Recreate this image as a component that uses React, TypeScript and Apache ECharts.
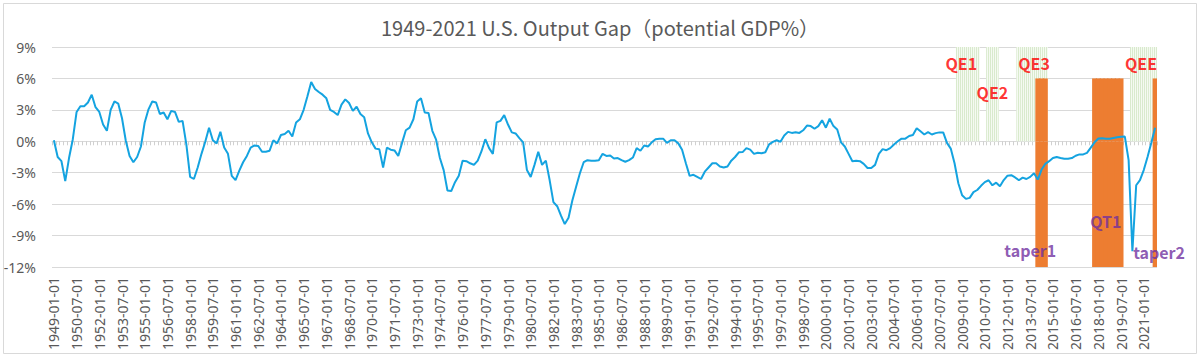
import { useEffect, useRef } from 'react';
import * as echarts from 'echarts';

// ---------- categories (quarterly, 1949Q1 .. 2021Q4) ----------
const START_YEAR = 1949;
const END_YEAR = 2021;
const QUARTER_MONTHS = ['01', '04', '07', '10'];
const categories: string[] = [];
for (let y = START_YEAR; y <= END_YEAR; y++) {
  for (const m of QUARTER_MONTHS) categories.push(`${y}-${m}-01`);
}

// ---------- output gap, % of potential GDP ----------
const gap1949_1958 = [
  0.1, -1.5, -1.9, -3.8,
  -1.6, 0.2, 2.8, 3.35,
  3.35, 3.7, 4.45, 3.25,
  2.8, 1.6, 1.0, 3.0,
  3.8, 3.6, 2.2, 0.05,
  -1.4, -2.0, -1.5, -0.5,
  1.8, 3.05, 3.8, 3.7,
  2.6, 2.75, 2.1, 2.9,
  2.8, 1.85, 1.95, -0.3,
  -3.4, -3.6, -2.5, -1.2,
];
const gap1959_1968 = [
  -0.05, 1.3, 0.1, -0.2,
  0.9, -0.6, -1.2, -3.3,
  -3.7, -2.8, -2.0, -1.4,
  -0.6, -0.4, -0.45, -1.0,
  -1.0, -0.9, 0.1, -0.2,
  0.6, 0.7, 1.0, 0.45,
  1.8, 2.1, 3.0, 4.3,
  5.65, 5.0, 4.7, 4.45,
  4.1, 3.0, 2.8, 2.5,
  3.5, 4.0, 3.65, 2.9,
];
const gap1969_1978 = [
  3.3, 2.6, 2.3, 0.75,
  -0.1, -0.7, -0.77, -2.5,
  -0.6, -0.8, -0.87, -1.4,
  -0.15, 1.05, 1.3, 2.1,
  3.8, 4.1, 2.75, 2.7,
  1.0, 0.15, -1.6, -2.75,
  -4.7, -4.75, -3.9, -3.3,
  -1.85, -1.9, -2.1, -2.25,
  -1.85, -0.95, 0.2, -0.65,
  -1.2, 1.8, 1.95, 2.5,
];
const gap1979_1988 = [
  1.6, 0.85, 0.75, 0.3,
  -0.1, -2.75, -3.4, -2.25,
  -1.0, -2.25, -1.85, -3.7,
  -5.8, -6.2, -7.1, -7.9,
  -7.3, -5.65, -4.35, -3.05,
  -2.0, -1.8, -1.85, -1.85,
  -1.8, -1.2, -1.4, -1.35,
  -1.65, -1.6, -1.8, -1.95,
  -1.8, -1.55, -0.65, -0.9,
  -0.4, -0.5, -0.1, 0.2,
];
const gap1989_1998 = [
  0.25, 0.25, -0.15, 0.1,
  0.1, -0.2, -0.8, -2.1,
  -3.3, -3.2, -3.4, -3.6,
  -2.9, -2.5, -2.1, -2.1,
  -2.4, -2.5, -2.4, -1.85,
  -1.5, -1.05, -1.03, -0.65,
  -0.8, -1.2, -1.1, -1.15,
  -1.05, -0.3, -0.05, 0.1,
  -0.05, 0.55, 0.9, 0.8,
  0.87, 0.8, 1.05, 1.5,
];
const gap1999_2008 = [
  1.45, 1.2, 1.45, 2.0,
  1.3, 2.15, 1.45, 1.13,
  -0.1, -0.5, -1.2, -1.9,
  -1.85, -1.9, -2.15, -2.55,
  -2.55, -2.25, -1.2, -0.75,
  -0.85, -0.65, -0.3, 0.0,
  0.25, 0.25, 0.5, 0.6,
  1.25, 0.95, 0.65, 0.88,
  0.65, 0.78, 0.85, 0.85,
  -0.15, -0.7, -2.1, -4.0,
];
const gap2009_2018 = [
  -5.15, -5.5, -5.4, -4.85,
  -4.65, -4.25, -3.9, -3.72,
  -4.2, -3.95, -4.3, -3.7,
  -3.28, -3.24, -3.45, -3.72,
  -3.47, -3.6, -3.4, -3.05,
  -3.65, -2.7, -2.15, -1.9,
  -1.6, -1.5, -1.6, -1.67,
  -1.67, -1.6, -1.38, -1.25,
  -1.25, -1.1, -0.6, -0.1,
  0.26, 0.3, 0.24, 0.25,
];
const gap2019_2021 = [
  0.32, 0.39, 0.44, 0.45,
  -1.8, -10.5, -4.2, -3.7,
  -2.75, -1.5, -0.15, 1.3,
];
const outputGap = [
  ...gap1949_1958, ...gap1959_1968, ...gap1969_1978, ...gap1979_1988,
  ...gap1989_1998, ...gap1999_2008, ...gap2009_2018, ...gap2019_2021,
];

// ---------- y axis ----------
const Y_MIN = -12;
const Y_MAX = 9;
const Y_STEP = 3;

// ---------- policy periods ----------
const qePeriods = [
  { name: 'QE1', start: '2008-10-01', end: '2010-01-01' },
  { name: 'QE2', start: '2010-10-01', end: '2011-04-01' },
  { name: 'QE3', start: '2012-10-01', end: '2014-07-01' },
  { name: 'QEE', start: '2020-04-01', end: '2021-10-01' },
];
const tighteningPeriods = [
  { name: 'taper1', start: '2014-01-01', end: '2014-07-01' },
  { name: 'QT1', start: '2017-10-01', end: '2019-07-01' },
  { name: 'taper2', start: '2021-10-01', end: '2021-10-01' },
];
const QE_TOP = 9;
const TIGHT_TOP = 6;
const TIGHT_BOTTOM = -12;

// annotation anchors (category, value)
const qeLabels = [
  { name: 'QE1', date: '2008-10-01', value: 7.5 },
  { name: 'QE2', date: '2011-01-01', value: 4.7 },
  { name: 'QE3', date: '2013-10-01', value: 7.5 },
  { name: 'QEE', date: '2020-10-01', value: 7.5 },
];
const tightLabels = [
  { name: 'taper1', date: '2013-07-01', value: -10.4 },
  { name: 'QT1', date: '2018-07-01', value: -7.65 },
  { name: 'taper2', date: '2021-10-01', value: -10.6 },
];

const FONT = '"Noto Sans", "Noto Sans CJK SC", sans-serif';
const FONT_CJK = '"Noto Sans CJK SC", "Noto Sans", sans-serif';

function periodValues(periods: { start: string; end: string }[], v: number) {
  return categories.map((c) => (periods.some((p) => c >= p.start && c <= p.end) ? v : null));
}

export default function App() {
  const ref = useRef<HTMLDivElement>(null);

  useEffect(() => {
    document.body.style.margin = '0';
    if (!ref.current) return;
    const chart = echarts.init(ref.current, undefined, { renderer: 'svg' });

    const labelOffsets: Record<string, number[]> = { QE1: [3, 0], taper2: [4, 0], QEE: [1, 0] };
    const ORANGE = '#ed7d31';
    const BAR_W = '130%';

    const option: any = {
      animation: false,
      backgroundColor: '#ffffff',
      title: {
        text: '1949-2021 U.S. Output Gap（potential GDP%）',
        left: 381,
        top: 17,
        padding: 0,
        textStyle: { fontFamily: FONT_CJK, fontSize: 20, fontWeight: 'normal', color: '#595959' },
      },
      graphic: [
        {
          type: 'rect',
          silent: true,
          z: -10,
          shape: { x: 3.5, y: 3.5, width: 1193, height: 350 },
          style: { fill: 'none', stroke: '#d9d9d9', lineWidth: 1 },
        },
      ],
      grid: { left: 52, right: 43, top: 47, bottom: 90, containLabel: false },
      xAxis: [
        {
          type: 'category',
          data: categories,
          boundaryGap: true,
          axisLine: { show: false, onZero: false },
          axisTick: { show: false },
          splitLine: { show: false },
          axisLabel: {
            interval: 5,
            rotate: 90,
            margin: 10,
            fontSize: 14,
            fontFamily: FONT,
            color: '#595959',
          },
        },
        {
          type: 'category',
          data: categories,
          position: 'bottom',
          boundaryGap: true,
          axisLine: { show: true, onZero: true, lineStyle: { color: '#d9d9d9', width: 1 } },
          axisTick: { show: true, interval: 0, length: 4, lineStyle: { color: '#d0d0d0', width: 1 } },
          axisLabel: { show: false },
          splitLine: { show: false },
        },
      ],
      yAxis: {
        type: 'value',
        min: Y_MIN,
        max: Y_MAX,
        interval: Y_STEP,
        axisLine: { show: false },
        axisTick: { show: false },
        splitLine: { lineStyle: { color: '#d9d9d9', width: 1 } },
        axisLabel: {
          formatter: '{value}%',
          fontSize: 14,
          fontFamily: FONT,
          color: '#595959',
          margin: 16,
        },
      },
      series: [
        {
          name: 'QE',
          type: 'bar',
          xAxisIndex: 0,
          data: periodValues(qePeriods, QE_TOP),
          barWidth: BAR_W,
          barGap: '-100%',
          z: 1,
          itemStyle: {
            color: '#f5faf2',
            decal: {
              symbol: 'rect',
              symbolSize: 1,
              color: '#d9eacd',
              dashArrayX: [1, 1],
              dashArrayY: [4, 0],
              rotation: 0,
            },
          },
        },
        {
          name: 'tightUp',
          type: 'bar',
          xAxisIndex: 0,
          data: periodValues(tighteningPeriods, TIGHT_TOP),
          barWidth: BAR_W,
          barGap: '-100%',
          z: 2,
          itemStyle: { color: ORANGE },
        },
        {
          name: 'tightDown',
          type: 'bar',
          xAxisIndex: 0,
          data: periodValues(tighteningPeriods, TIGHT_BOTTOM),
          barWidth: BAR_W,
          barGap: '-100%',
          z: 2,
          itemStyle: { color: ORANGE },
        },
        {
          name: 'Output Gap',
          type: 'line',
          xAxisIndex: 0,
          data: outputGap,
          symbol: 'none',
          smooth: false,
          z: 5,
          lineStyle: { color: '#14a3e0', width: 2 },
        },
        {
          name: 'qeLabels',
          type: 'scatter',
          xAxisIndex: 0,
          z: 6,
          symbolSize: 1,
          itemStyle: { color: 'rgba(0,0,0,0)' },
          data: qeLabels.map((l) => ({
            name: l.name,
            value: [l.date, l.value],
            label: { offset: labelOffsets[l.name] || [0, 0] },
          })),
          label: {
            show: true,
            position: 'inside',
            formatter: '{b}',
            fontFamily: FONT_CJK,
            fontSize: 16,
            fontWeight: 'bold',
            color: '#ff0000',
          },
        },
        {
          name: 'tightLabels',
          type: 'scatter',
          xAxisIndex: 0,
          z: 6,
          symbolSize: 1,
          itemStyle: { color: 'rgba(0,0,0,0)' },
          data: tightLabels.map((l) => ({
            name: l.name,
            value: [l.date, l.value],
            label: { offset: labelOffsets[l.name] || [0, 0] },
          })),
          label: {
            show: true,
            position: 'inside',
            formatter: '{b}',
            fontFamily: FONT_CJK,
            fontSize: 16,
            fontWeight: 'bold',
            color: '#7030a0',
          },
        },
      ],
    };

    chart.setOption(option);
    return () => chart.dispose();
  }, []);

  return <div ref={ref} style={{ width: 1200, height: 357 }} />;
}
